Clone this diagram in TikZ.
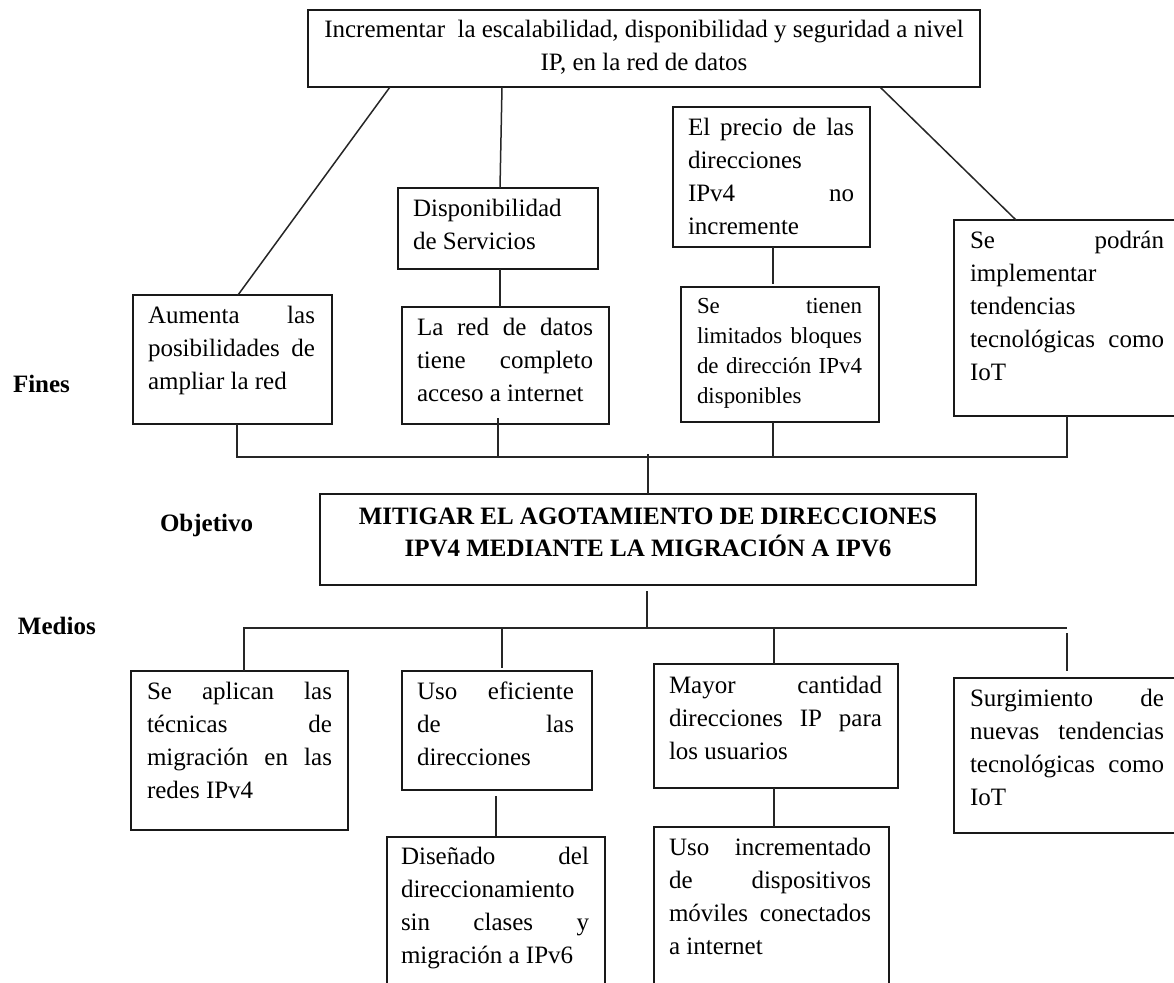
\documentclass[tikz,border=0pt]{standalone}
\usepackage{fontspec}
\setmainfont{Liberation Serif}[Ligatures=NoCommon]
\usetikzlibrary{calc,fit}
\hyphenpenalty=10000
\exhyphenpenalty=10000
\tolerance=10000
\hbadness=10000
\begin{document}
\begin{tikzpicture}[x=0.5pt,y=-0.5pt,
  frame/.style={draw=black!90, line width=0.9pt, inner sep=0pt, outer sep=0pt},
  conn/.style={draw=black!85, line width=0.75pt},
  body/.style={inner sep=0pt, outer sep=0pt, anchor=base west, align=justify,
    font=\fontsize{12.5pt}{16.5pt}\selectfont},
  bodysmall/.style={body, font=\fontsize{11.46pt}{15.1pt}\selectfont},
  lab/.style={inner sep=0pt, outer sep=0pt, anchor=base west,
    font=\fontsize{12.5pt}{16.5pt}\selectfont\bfseries}]

% page
\useasboundingbox (0,0) rectangle (1174,982);
\fill[white] (0,0) rectangle (1174,982);
\clip (0,0) rectangle (1174,982);

% ---------- frames ----------
\node[frame, fit={(308,10)(980,87)}]    (top)    {};
\node[frame, fit={(133,295)(332,424)}]  (aum)    {};
\node[frame, fit={(398,188)(598,269)}]  (disp)   {};
\node[frame, fit={(402,307)(609,424)}]  (lared)  {};
\node[frame, fit={(673,107)(870,247)}]  (precio) {};
\node[frame, fit={(681,287)(879,422)}]  (tienen) {};
\node[frame, fit={(954,220)(1181,416)}] (podr)   {};
\node[frame, fit={(320,494)(976,585)}]  (obj)    {};
\node[frame, fit={(131,671)(348,830)}]  (apl)    {};
\node[frame, fit={(402,671)(592,790)}]  (ueff)   {};
\node[frame, fit={(387,837)(605,1000)}] (dis)    {};
\node[frame, fit={(654,664)(898,788)}]  (mayor)  {};
\node[frame, fit={(654,827)(889,1000)}] (uinc)   {};
\node[frame, fit={(954,678)(1181,833)}] (surg)   {};

% ---------- texts ----------
\node[body, anchor=base, align=flush center, text width=326pt] (topT) at ($(top.north)+(0,27)$)
  {Incrementar~ la escalabilidad, disponibilidad y seguridad a nivel\\IP, en la red de datos};
\node[body, text width=83.5pt] (aumT) at ($(aum.north west)+(15,28)$)
  {Aumenta las\linebreak posibilidades de\linebreak ampliar la red};
\node[body, text width=84.5pt] (dispT) at ($(disp.north west)+(15,28)$)
  {Disponibilidad\linebreak de Servicios};
\node[body, text width=88pt] (laredT) at ($(lared.north west)+(15,28)$)
  {La red de datos\linebreak tiene completo\linebreak acceso a internet};
\node[body, text width=83pt] (precioT) at ($(precio.north west)+(15,28)$)
  {El precio de las\linebreak direcciones\linebreak IPv4 no\linebreak incremente};
\node[bodysmall, text width=82.5pt] (tienenT) at ($(tienen.north west)+(16,26)$)
  {Se tienen\linebreak limitados bloques\linebreak de dirección IPv4\linebreak disponibles};
\node[body, text width=97pt] (podrT) at ($(podr.north west)+(16,28)$)
  {Se podrán\linebreak implementar\linebreak tendencias\linebreak tecnológicas como\linebreak IoT};
\node[anchor=base, align=flush center, text width=320pt, inner sep=0pt,
      font=\fontsize{12.5pt}{16pt}\selectfont\bfseries] (objT) at ($(obj.north)+(0,30)$)
  {MITIGAR EL AGOTAMIENTO DE DIRECCIONES\\IPV4 MEDIANTE LA MIGRACIÓN A IPV6};
\node[body, text width=92.5pt] (aplT) at ($(apl.north west)+(16,28)$)
  {Se aplican las\linebreak técnicas de\linebreak migración en las\linebreak redes IPv4};
\node[body, text width=78.5pt] (ueffT) at ($(ueff.north west)+(15,28)$)
  {Uso eficiente\linebreak de las\linebreak direcciones};
\node[body, text width=94pt] (disT) at ($(dis.north west)+(14,27)$)
  {Diseñado del\linebreak direccionamiento\linebreak sin clases y\linebreak migración a IPv6};
\node[body, text width=106.5pt] (mayorT) at ($(mayor.north west)+(15,29)$)
  {Mayor cantidad\linebreak direcciones IP para\linebreak los usuarios};
\node[body, text width=101pt] (uincT) at ($(uinc.north west)+(15,28)$)
  {Uso incrementado\linebreak de dispositivos\linebreak móviles conectados\linebreak a internet};
\node[body, text width=97pt] (surgT) at ($(surg.north west)+(16,28)$)
  {Surgimiento de\linebreak nuevas tendencias\linebreak tecnológicas como\linebreak IoT};

% ---------- row labels ----------
\node[lab] (fines)    at (13,392)  {Fines};
\node[lab] (objetivo) at (160,531) {Objetivo};
\node[lab] (medios)   at (18,634)  {Medios};

% ---------- connectors from the top box ----------
\draw[conn] ($(top.south west)+(82,0)$)   -- ($(aum.north west)+(105,0)$);
\draw[conn] ($(top.south west)+(194,0)$)  -- ($(disp.north west)+(102,0)$);
\draw[conn] ($(disp.south west)+(102,0)$) -- ($(lared.north west)+(98,0)$);
\draw[conn] ($(top.south west)+(572,0)$)  -- ($(podr.north west)+(62,0)$);
\draw[conn] ($(precio.south west)+(100,0)$) -- ($(tienen.north west)+(92,-3)$);

% ---------- upper bus ----------
\coordinate (upR) at ($(podr.south west)+(113,41)$);
\draw[conn] ($(aum.south west)+(104,0)$) |- (upR) -- ($(podr.south west)+(113,0)$);
\draw[conn] ($(lared.south west)+(96,-6)$) -- ($(lared.south west)+(96,33)$);
\draw[conn] ($(tienen.south west)+(92,0)$) -- ($(tienen.south west)+(92,35)$);
\draw[conn] ($(obj.north)+(0,-40)$) -- (obj.north);

% ---------- lower bus ----------
\coordinate (lowR) at ($(surg.north west)+(113,-50)$);
\draw[conn] ($(obj.south)+(-1,6)$) -- ($(obj.south)+(-1,43)$);
\draw[conn] ($(apl.north west)+(113,0)$) |- (lowR);
\draw[conn] ($(surg.north west)+(113,-45)$) -- ($(surg.north west)+(113,-7)$);
\draw[conn] ($(ueff.north west)+(100,-43)$) -- ($(ueff.north west)+(100,-3)$);
\draw[conn] ($(mayor.north west)+(120,-36)$) -- ($(mayor.north west)+(120,0)$);
\draw[conn] ($(ueff.south west)+(94,6)$) -- ($(dis.north west)+(109,-1)$);
\draw[conn] ($(mayor.south west)+(120,0)$) -- ($(uinc.north west)+(120,0)$);

\end{tikzpicture}
\end{document}
